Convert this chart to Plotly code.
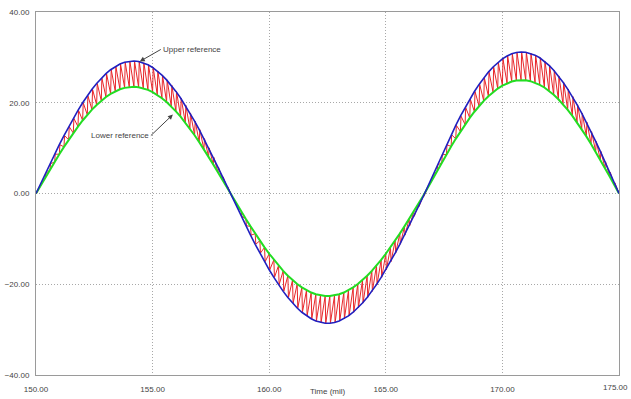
import plotly.graph_objects as go

# Sample times (mil), one per switching period
time_start = 150.0
time_step = 0.2

# Upper hysteresis reference at each sample time
upper_ref = [
    0, 2.20, 4.39, 6.55, 8.68, 10.75, 12.76, 14.71, 16.56, 18.33,
    19.99, 21.54, 22.96, 24.25, 25.41, 26.42, 27.28, 27.99, 28.54, 28.92,
    29.14, 29.20, 29.09, 28.81, 28.37, 27.77, 27.01, 26.10, 25.04, 23.84,
    22.50, 21.04, 19.44, 17.75, 15.95, 14.07, 12.10, 10.06, 7.97, 5.83,
    3.66, 1.47, -0.72, -2.87, -5.01, -7.11, -9.18, -11.19, -13.14, -15.02,
    -16.81, -18.50, -20.09, -21.57, -22.92, -24.15, -25.23, -26.17, -26.97, -27.61,
    -28.09, -28.42, -28.58, -28.58, -28.42, -28.09, -27.61, -26.97, -26.17, -25.23,
    -24.15, -22.92, -21.57, -20.09, -18.50, -16.81, -15.02, -13.14, -11.19, -9.18,
    -7.11, -5.01, -2.87, -0.72, 1.57, 3.91, 6.23, 8.52, 10.75, 12.93,
    15.03, 17.05, 18.97, 20.78, 22.48, 24.04, 25.47, 26.75, 27.88, 28.86,
    29.67, 30.31, 30.79, 31.08, 31.20, 31.14, 30.90, 30.49, 29.91, 29.15,
    28.23, 27.15, 25.91, 24.53, 23.01, 21.36, 19.58, 17.70, 15.71, 13.64,
    11.48, 9.27, 7.00, 4.69, 2.35, 0,
]

# Lower hysteresis reference at each sample time
lower_ref = [
    0, 1.77, 3.53, 5.27, 6.98, 8.65, 10.27, 11.83, 13.33, 14.75,
    16.09, 17.33, 18.48, 19.52, 20.45, 21.26, 21.96, 22.52, 22.97, 23.28,
    23.45, 23.50, 23.41, 23.19, 22.83, 22.35, 21.74, 21.00, 20.15, 19.18,
    18.11, 16.93, 15.65, 14.29, 12.84, 11.32, 9.74, 8.10, 6.42, 4.69,
    2.94, 1.18, -0.57, -2.27, -3.96, -5.62, -7.25, -8.85, -10.39, -11.87,
    -13.28, -14.62, -15.88, -17.04, -18.11, -19.08, -19.94, -20.68, -21.31, -21.82,
    -22.20, -22.46, -22.58, -22.58, -22.46, -22.20, -21.82, -21.31, -20.68, -19.94,
    -19.08, -18.11, -17.04, -15.88, -14.62, -13.28, -11.87, -10.39, -8.85, -7.25,
    -5.62, -3.96, -2.27, -0.57, 1.26, 3.13, 4.99, 6.83, 8.62, 10.36,
    12.05, 13.66, 15.20, 16.65, 18.02, 19.26, 20.41, 21.44, 22.34, 23.13,
    23.78, 24.29, 24.67, 24.90, 25.00, 24.95, 24.76, 24.43, 23.96, 23.36,
    22.62, 21.75, 20.77, 19.66, 18.44, 17.11, 15.69, 14.18, 12.59, 10.93,
    9.20, 7.43, 5.61, 3.76, 1.88, 0,
]

x_ticks = [150, 155, 160, 165, 170, 175]
y_ticks = [-40, -20, 0, 20, 40]

times = [time_start + i * time_step for i in range(len(upper_ref))]

# Hysteresis current: snaps to the upper band, then ramps back to the lower band
cur_t, cur_v = [], []
for i, t in enumerate(times):
    cur_t.append(t)
    cur_v.append(lower_ref[i])
    if i < len(times) - 1:
        cur_t.append(t + 0.025)
        cur_v.append(upper_ref[i])

fig = go.Figure()
fig.add_trace(go.Scatter(x=cur_t, y=cur_v, mode="lines",
                         line=dict(color="#e8262a", width=1), name="Current"))
fig.add_trace(go.Scatter(x=times, y=lower_ref, mode="lines",
                         line=dict(color="#22dd22", width=2), name="Lower reference"))
fig.add_trace(go.Scatter(x=times, y=upper_ref, mode="lines",
                         line=dict(color="#2020c0", width=1.6), name="Upper reference"))

axis_font = dict(family="Liberation Sans, Arial, sans-serif", size=8, color="#444")

common_axis = dict(
    showgrid=True, gridcolor="#a8a8a8", griddash="1px,2px", gridwidth=1,
    showline=True, linecolor="#9a9a9a", linewidth=1, mirror=True,
    zeroline=False, ticks="", tickfont=axis_font, automargin=False,
)

# The last x label sits at the right edge, so it is drawn as an annotation
x_labels = [f"{v:.2f}" for v in x_ticks[:-1]] + [""]

fig.update_layout(
    width=631, height=399,
    margin=dict(l=36, r=12, t=12, b=24),
    paper_bgcolor="white", plot_bgcolor="white",
    showlegend=False,
    font=axis_font,
    xaxis=dict(range=[150, 175], tickvals=x_ticks, ticktext=x_labels,
               ticklabelstandoff=6, **common_axis),
    yaxis=dict(range=[-40, 40], tickvals=y_ticks, tickformat=".2f",
               ticklabelstandoff=4, **common_axis),
)

fig.add_annotation(text=f"{x_ticks[-1]:.2f}", x=x_ticks[-1], xref="x",
                   yref="paper", y=0, yshift=-6, xanchor="right", yanchor="top",
                   xshift=11, showarrow=False, font=axis_font)
fig.add_annotation(text="Time (mil)", xref="paper", yref="paper", x=0.5,
                   y=-24 / 363, yshift=1, xanchor="center", yanchor="bottom",
                   showarrow=False, font=axis_font)
fig.add_annotation(text="Upper reference", x=154.45, y=29.1, xref="x", yref="y",
                   ax=21, ay=-12, showarrow=True, arrowhead=2, arrowsize=1,
                   arrowwidth=1, arrowcolor="#444", xanchor="left",
                   yanchor="middle", font=axis_font)
fig.add_annotation(text="Lower reference", x=155.87, y=17.4, xref="x", yref="y",
                   ax=-22, ay=21, showarrow=True, arrowhead=2, arrowsize=1,
                   arrowwidth=1, arrowcolor="#444", xanchor="right",
                   yanchor="middle", font=axis_font)

fig.write_html("out.html")
